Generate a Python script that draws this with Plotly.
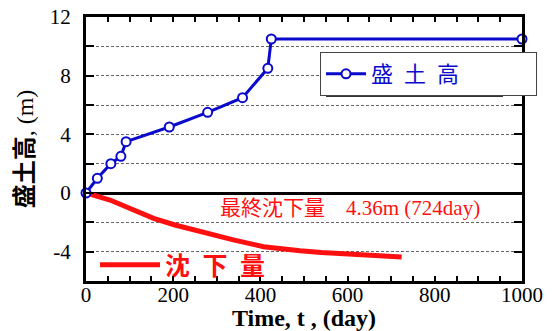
import plotly.graph_objects as go

# 盛土高 (embankment height) data
fill_days = [0, 26, 57, 80, 92, 191, 279, 359, 417, 425, 1000]
fill_height = [0, 1.0, 2.0, 2.5, 3.5, 4.5, 5.5, 6.5, 8.5, 10.5, 10.5]

# 沈下量 (settlement) data
settle_days = [0, 20, 55, 85, 116, 155, 204, 240, 277, 338, 407, 450, 491, 540, 598, 660, 724]
settle_vals = [0, -0.15, -0.48, -0.85, -1.27, -1.73, -2.18, -2.47, -2.75, -3.2, -3.66, -3.82,
               -3.93, -4.05, -4.16, -4.28, -4.36]

x_ticks = [0, 200, 400, 600, 800, 1000]
y_ticks = [-4, 0, 4, 8, 12]

BLUE = "#0a0acc"
RED = "#ff1010"
SERIF = "Liberation Serif, Noto Sans CJK JP"
CJK = "Noto Sans CJK JP"

PL, PR, PT, PB = 86, 35, 17, 50
W, H = 557, 331
PW, PH = W - PL - PR, H - PT - PB


def px(xp):  # reference pixel -> paper x
    return (xp - PL) / PW


def py(yp):  # reference pixel -> paper y
    return (H - PB - yp) / PH


fig = go.Figure()

fig.add_trace(go.Scatter(
    x=settle_days, y=settle_vals, mode="lines",
    name="沈\u2002下\u2002量", legend="legend2",
    line=dict(color=RED, width=5),
))

fig.add_trace(go.Scatter(
    x=fill_days, y=fill_height, mode="lines+markers",
    name="盛\u2002土\u2002高", legend="legend",
    line=dict(color=BLUE, width=3),
    marker=dict(symbol="circle", size=9, color="white", line=dict(color=BLUE, width=2)),
    cliponaxis=False,
))

fig.add_annotation(
    x=605, y=-1.0, xref="x", yref="y",
    text="最終沈下量　4.36m (724day)", showarrow=False,
    font=dict(family=SERIF, size=21, color=RED),
)

# legend shadow
fig.add_shape(
    type="rect", xref="paper", yref="paper",
    x0=px(326), x1=px(503),
    y0=py(97), y1=py(58),
    fillcolor="#333333", line=dict(width=0), layer="above",
)

fig.update_layout(
    width=W, height=H,
    margin=dict(l=PL, r=PR, t=PT, b=PB),
    paper_bgcolor="white", plot_bgcolor="white",
    showlegend=True,
    legend=dict(
        x=px(320), y=py(52), xanchor="left", yanchor="top",
        orientation="h", entrywidth=160, entrywidthmode="pixels",
        bgcolor="white", bordercolor="#444444", borderwidth=1,
        font=dict(family=CJK, size=22, color=BLUE),
        itemwidth=40, tracegroupgap=0,
    ),
    legend2=dict(
        x=px(95), y=py(242), xanchor="left", yanchor="top",
        bgcolor="rgba(0,0,0,0)", borderwidth=0,
        font=dict(family=CJK, size=25, color=RED, weight="bold"),
        itemwidth=60,
    ),
    xaxis=dict(
        range=[0, 1000], tickvals=x_ticks, ticktext=[str(v) for v in x_ticks],
        ticks="inside", ticklen=5, tickwidth=2, tickcolor="black",
        minor=dict(dtick=50, ticks="inside", ticklen=5, tickwidth=2, tickcolor="black", showgrid=False),
        showline=True, linewidth=3, linecolor="black", mirror="allticks",
        showgrid=False, zeroline=False, automargin=False,
        ticklabeloverflow="allow",
        tickfont=dict(family="Liberation Serif", size=21, color="black"),
        ticklabelstandoff=-7,
        title=dict(text="<b>Time, t , (day)</b>", standoff=0,
                   font=dict(family="Liberation Serif", size=24, color="black")),
    ),
    yaxis=dict(
        range=[-6, 12], tickvals=y_ticks, ticktext=[str(v) for v in y_ticks],
        ticks="inside", ticklen=8, tickwidth=2, tickcolor="black",
        minor=dict(dtick=2, ticks="inside", ticklen=8, tickwidth=2, tickcolor="black",
                   showgrid=True, gridcolor="#666666", gridwidth=1, griddash="3px,2px"),
        showline=True, linewidth=3, linecolor="black", mirror="allticks",
        showgrid=True, gridcolor="#666666", gridwidth=1, griddash="3px,2px",
        zeroline=True, zerolinecolor="black", zerolinewidth=3, automargin=False,
        ticklabeloverflow="allow",
        tickfont=dict(family="Liberation Serif", size=21, color="black"),
        ticklabelstandoff=8,
        title=dict(text="<b>盛土高</b>, (m)", standoff=10,
                   font=dict(family=SERIF, size=24, color="black")),
    ),
)

fig.write_html("out.html", config={"displayModeBar": False},
               post_script="document.body.style.margin='0';")
